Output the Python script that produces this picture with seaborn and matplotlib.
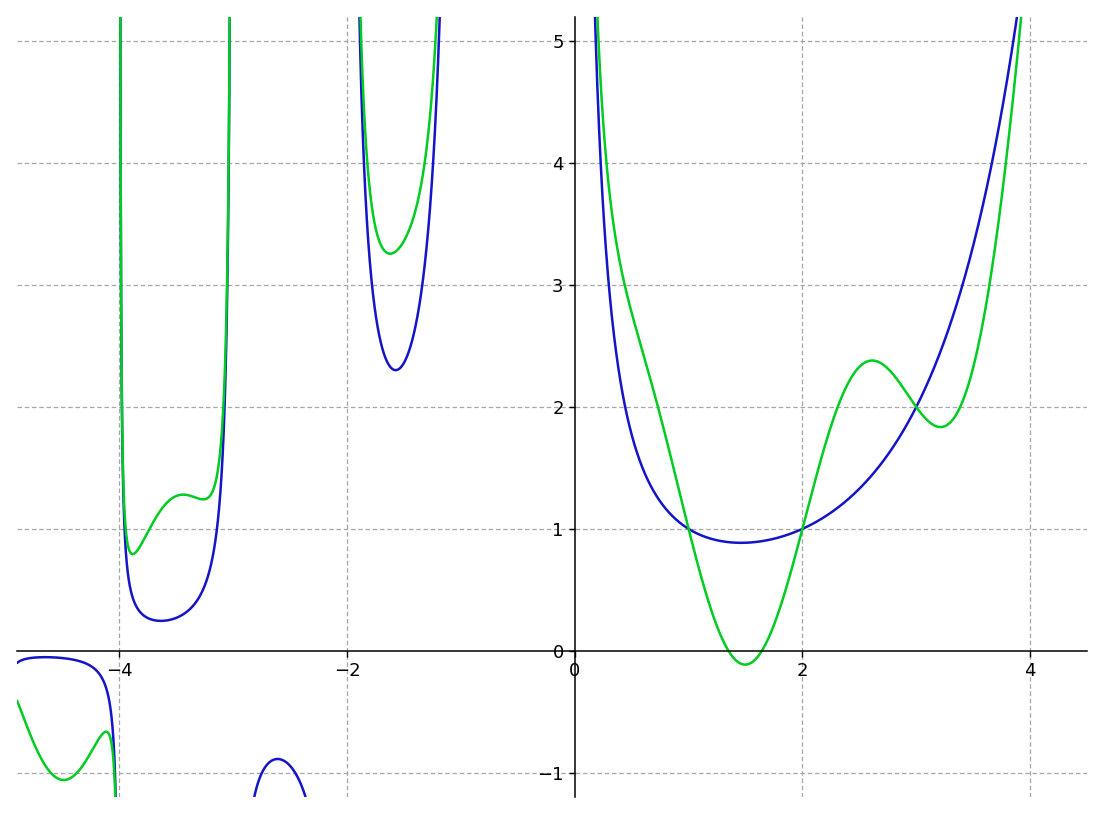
import math
import numpy as np
import pandas as pd
import seaborn as sns
import matplotlib.pyplot as plt

# intervals between the poles of the gamma function, as seen on the chart
branches = [(-4.9, -4.0), (-4.0, -3.0), (-3.0, -2.0), (-2.0, -1.0), (-1.0, 0.0), (0.0, 4.5)]
series = ["gamma(x)", "gamma(x) + sin(pi x)"]
colors = {"gamma(x)": "#1414c8", "gamma(x) + sin(pi x)": "#00cc22"}
xticks = [-4, -2, 0, 2, 4]
yticks = [-1, 0, 1, 2, 3, 4, 5]

rows = []
for i, (a, b) in enumerate(branches):
    xs = np.linspace(a + 1e-4, b - 1e-4, 1500)
    g = np.array([math.gamma(v) for v in xs])
    g = np.clip(g, -50, 50)
    for name, ys in [(series[0], g), (series[1], g + np.sin(np.pi * xs))]:
        rows.append(pd.DataFrame({"x": xs, "y": ys, "series": name, "branch": i}))
df = pd.concat(rows, ignore_index=True)

sns.set_style("white")
fig = plt.figure(figsize=(11.04, 8.16), dpi=100)
ax = fig.add_axes([17 / 1104, 19 / 816, 1070 / 1104, 780 / 816])

for name in series:
    for i in range(len(branches)):
        part = df[(df["series"] == name) & (df["branch"] == i)]
        sns.lineplot(data=part, x="x", y="y", ax=ax, color=colors[name],
                     lw=1.8, sort=False, estimator=None, legend=False)

ax.set_xlim(-4.9, 4.5)
ax.set_ylim(-1.2, 5.2)
ax.set_xticks(xticks)
ax.set_yticks(yticks)
ax.set_xlabel("")
ax.set_ylabel("")

ax.spines["left"].set_position(("data", 0))
ax.spines["bottom"].set_position(("data", 0))
ax.spines["top"].set_visible(False)
ax.spines["right"].set_visible(False)
for s in ["left", "bottom"]:
    ax.spines[s].set_color("black")
    ax.spines[s].set_linewidth(1.1)

ax.tick_params(axis="both", direction="out", length=4.5, width=1.0,
               colors="black", labelsize=13, left=True, bottom=True)
ax.grid(True, color="#a6a6a6", linestyle=(0, (3.6, 2.2)), lw=0.9)
ax.set_axisbelow(True)
# the zero grid lines sit under the axes themselves
ax.xaxis.get_gridlines()[xticks.index(0)].set_visible(False)
ax.yaxis.get_gridlines()[yticks.index(0)].set_visible(False)

plt.savefig("out.png", dpi=100)
